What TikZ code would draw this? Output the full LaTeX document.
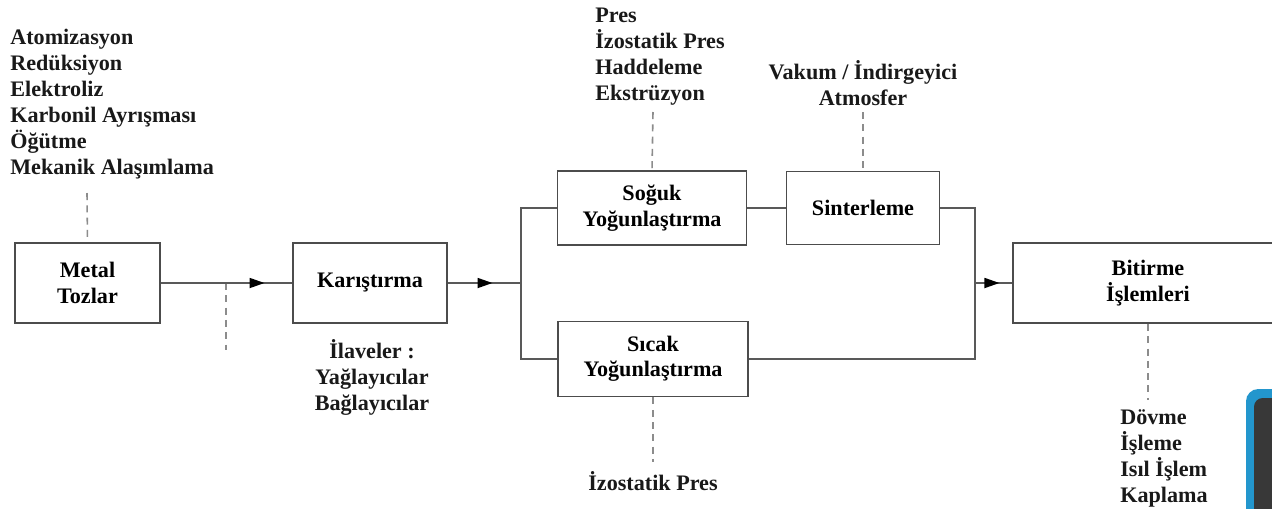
\documentclass[tikz,border=0pt]{standalone}
\usepackage{fontspec}
\setmainfont{Liberation Serif}
\usetikzlibrary{positioning, arrows.meta, decorations.markings, calc}

\begin{document}
\begin{tikzpicture}[
    x=0.02cm, y=-0.02cm,
    box/.style={
      font=\bfseries\fontsize{12.6}{14.5}\selectfont, align=center,
      draw=black!70, line width=1.1pt, rectangle, inner sep=0pt,
    },
    liste/.style={
      font=\bfseries\fontsize{12.6}{14.8}\selectfont, text=black!90,
      inner sep=0pt,
    },
    hat/.style={draw=black!65, line width=1pt},
    kesik/.style={draw=black!45, line width=0.9pt, dash pattern=on 4pt off 3pt},
    okucu/.style={
      postaction={decorate},
      decoration={markings, mark=at position #1 with
        {\arrow[black]{Triangle[length=3mm, width=2mm]}}},
    },
]
\useasboundingbox (0,0) rectangle (1272,508);
\fill[white] (0,0) rectangle (1272,508);

% Ana kutular
\node[box, minimum width=2.9cm,  minimum height=1.6cm]  (metal)  at (87.5,283) {Metal\\Tozlar};
\node[box, minimum width=3.08cm, minimum height=1.6cm]  (karis)  at (370,283)  {Karıştırma};
\node[box, minimum width=3.78cm, minimum height=1.48cm] (soguk)  at (652,208)  {Soğuk\\Yoğunlaştırma};
\node[box, minimum width=3.06cm, minimum height=1.46cm] (sinter) at (863,208)  {Sinterleme};
\node[box, minimum width=3.8cm,  minimum height=1.5cm]  (sicak)  at (653,359)  {Sıcak\\Yoğunlaştırma};
\node[box, minimum width=5.4cm,  minimum height=1.6cm]  (bitir)  at (1148,283) {Bitirme\\İşlemleri};

% Yan bilgiler
\node[liste, align=left, anchor=north west] (uretim) at (10,29)
    {Atomizasyon\\Redüksiyon\\Elektroliz\\Karbonil Ayrışması\\Öğütme\\Mekanik Alaşımlama};
\node[liste, align=left, anchor=north west] (presler) at (595,8)
    {Pres\\İzostatik Pres\\Haddeleme\\Ekstrüzyon};
\node[liste, align=center] (atmos) at (863,83) {Vakum / İndirgeyici\\Atmosfer};
\node[liste, align=center] (ilave) at (372,377) {İlaveler :\\Yağlayıcılar\\Bağlayıcılar};
\node[liste] (izopres) at (653,481) {İzostatik Pres};
\node[liste, align=left, anchor=north west] (sonislem) at (1120,409)
    {Dövme\\İşleme\\Isıl İşlem\\Kaplama};

% Kesikli uclar
\coordinate (uretimuc) at (87,193);
\coordinate (ekle)     at (226,283);
\coordinate (ekleuc)   at (226,350);
\coordinate (presuc)   at (653,112);
\coordinate (atmosuc)  at (863,112);
\coordinate (sicakuc)  at (653,462);
\coordinate (bitiruc)  at (1148,400);

\draw[kesik] (uretimuc) -- (metal.north);
\draw[kesik] (ekle) -- (ekleuc);
\draw[kesik] (presuc) -- (soguk.north);
\draw[kesik] (atmosuc) -- (sinter.north);
\draw[kesik] (sicak.south) -- (sicakuc);
\draw[kesik] (bitir.south) -- (bitiruc);

% Akis
\coordinate (dal)    at (521,283);
\coordinate (birles) at (975,283);

\draw[hat, okucu=0.79] (metal.east) -- (karis.west);
\draw[hat, okucu=0.61] (karis.east) -- (dal);
\draw[hat] (soguk.west) -| (dal) |- (sicak.west);
\draw[hat, line width=1.6pt] (soguk.east) -- (sinter.west);
\draw[hat] (sinter.east) -| (birles) |- (sicak.east);
\draw[hat, okucu=0.66] (birles) -- (bitir.west);

% Sag alt kose
\fill[rounded corners=7pt, fill={rgb,255:red,35;green,150;blue,205}] (1246,389) rectangle (1300,530);
\fill[rounded corners=5pt, fill=black!78] (1254,398) rectangle (1300,530);
\end{tikzpicture}
\end{document}
